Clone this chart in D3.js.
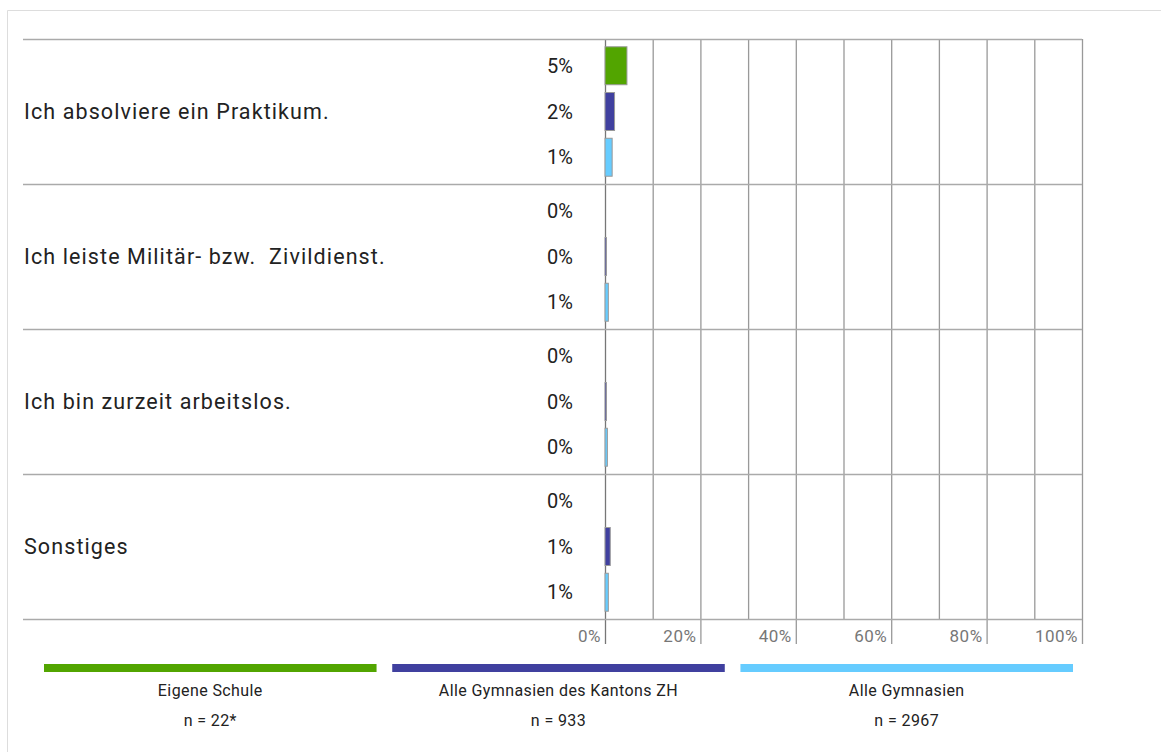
<!DOCTYPE html>
<meta charset="utf-8">
<script src="https://d3js.org/d3.v7.min.js"></script>
<style>
  body { margin: 0; background: #fff; }
  text { font-family: Roboto, sans-serif; }
</style>
<body>
<div id="chart"></div>
<script>

// data
var questions = ["Ich absolviere ein Praktikum.", "Ich leiste Militär- bzw.  Zivildienst.", "Ich bin zurzeit arbeitslos.", "Sonstiges"];
var groups = ["Eigene Schule", "Alle Gymnasien des Kantons ZH", "Alle Gymnasien"];
var groupN = ["n = 22*", "n = 933", "n = 2967"];
var colors = ["#52a500", "#40409f", "#66ccff"];
var eigeneSchule = [4.6, 0, 0, 0];
var kantonZH = [2.0, 0.3, 0.3, 1.1];
var alleGymnasien = [1.5, 0.7, 0.5, 0.7];
var valueLabels = [["5%", "2%", "1%"], ["0%", "0%", "1%"], ["0%", "0%", "0%"], ["0%", "1%", "1%"]];
var xTicks = [0, 10, 20, 30, 40, 50, 60, 70, 80, 90, 100];
var xLabels = [0, 20, 40, 60, 80, 100];

var series = [eigeneSchule, kantonZH, alleGymnasien];

var W = 1161, H = 752;
var svg = d3.select("#chart").append("svg")
    .attr("width", W)
    .attr("height", H);

// outer frame
svg.append("path")
    .attr("d", "M7.5," + H + "V10.5H" + W)
    .attr("fill", "none")
    .attr("stroke", "#ddd");

var x = d3.scaleLinear().domain([0, 100]).range([605, 1082]);
var y = d3.scaleBand().domain(questions).range([39, 619]);
var inner = d3.scaleBand().domain(groups).range([0, y.bandwidth()]).padding(0.17);

// vertical grid lines
svg.append("g").selectAll("line")
    .data(xTicks)
    .enter().append("line")
      .attr("x1", function(d) { return x(d) + 0.5; })
      .attr("x2", function(d) { return x(d) + 0.5; })
      .attr("y1", 39)
      .attr("y2", function(d) { return xLabels.indexOf(d) >= 0 ? 644 : 619; })
      .attr("stroke", function(d) { return d == 0 ? "#777" : "#999"; })
      .attr("stroke-width", 1.3);

// horizontal separators
var seps = questions.map(function(q) { return y(q); }).concat([619]);
svg.append("g").selectAll("line")
    .data(seps)
    .enter().append("line")
      .attr("x1", 23)
      .attr("x2", 1082)
      .attr("y1", function(d) { return d + 0.5; })
      .attr("y2", function(d) { return d + 0.5; })
      .attr("stroke", "#aaa")
      .attr("stroke-width", 1.3);

// x labels
svg.append("g").selectAll("text")
    .data(xLabels)
    .enter().append("text")
      .attr("x", function(d) { return x(d) - 4; })
      .attr("y", 642)
      .attr("text-anchor", "end")
      .attr("fill", "#777")
      .style("font-size", "17px")
      .style("letter-spacing", "0.5px")
      .text(function(d) { return d + "%"; });

// question groups
var rows = svg.append("g").selectAll("g")
    .data(questions)
    .enter().append("g")
      .attr("transform", function(d) { return "translate(0," + y(d) + ")"; });

rows.append("text")
    .attr("x", 24)
    .attr("y", y.bandwidth() / 2)
    .attr("dy", "0.35em")
    .attr("fill", "#222")
    .style("font-size", "21.5px")
    .style("letter-spacing", "1.1px")
    .style("white-space", "pre")
    .text(function(d) { return d; });

rows.each(function(q, qi) {
  var g = d3.select(this);
  groups.forEach(function(grp, gi) {
    var v = series[gi][qi];
    if (v > 0) {
      g.append("rect")
        .attr("x", x(0))
        .attr("y", inner(grp))
        .attr("width", x(v) - x(0))
        .attr("height", inner.bandwidth())
        .attr("fill", colors[gi])
        .attr("stroke", "#999")
        .attr("stroke-width", 1);
    }
    g.append("text")
      .attr("x", 573)
      .attr("y", inner(grp) + inner.bandwidth() / 2)
      .attr("dy", "0.35em")
      .attr("text-anchor", "end")
      .attr("fill", "#222")
      .style("font-size", "20px")
      .text(valueLabels[qi][gi]);
  });
});

// legend
var lx = d3.scaleBand().domain(groups).range([44, 1073]).paddingInner(0.045);
var leg = svg.append("g").selectAll("g")
    .data(groups)
    .enter().append("g");

leg.append("rect")
    .attr("x", function(d) { return lx(d); })
    .attr("y", 664)
    .attr("width", lx.bandwidth())
    .attr("height", 8)
    .attr("fill", function(d, i) { return colors[i]; });

leg.append("text")
    .attr("x", function(d) { return lx(d) + lx.bandwidth() / 2; })
    .attr("y", 696)
    .attr("text-anchor", "middle")
    .attr("fill", "#222")
    .style("font-size", "16px")
    .style("letter-spacing", "0.4px")
    .text(function(d) { return d; });

leg.append("text")
    .attr("x", function(d) { return lx(d) + lx.bandwidth() / 2; })
    .attr("y", 726)
    .attr("text-anchor", "middle")
    .attr("fill", "#222")
    .style("font-size", "16px")
    .style("letter-spacing", "0.4px")
    .text(function(d, i) { return groupN[i]; });

</script>
</body>
